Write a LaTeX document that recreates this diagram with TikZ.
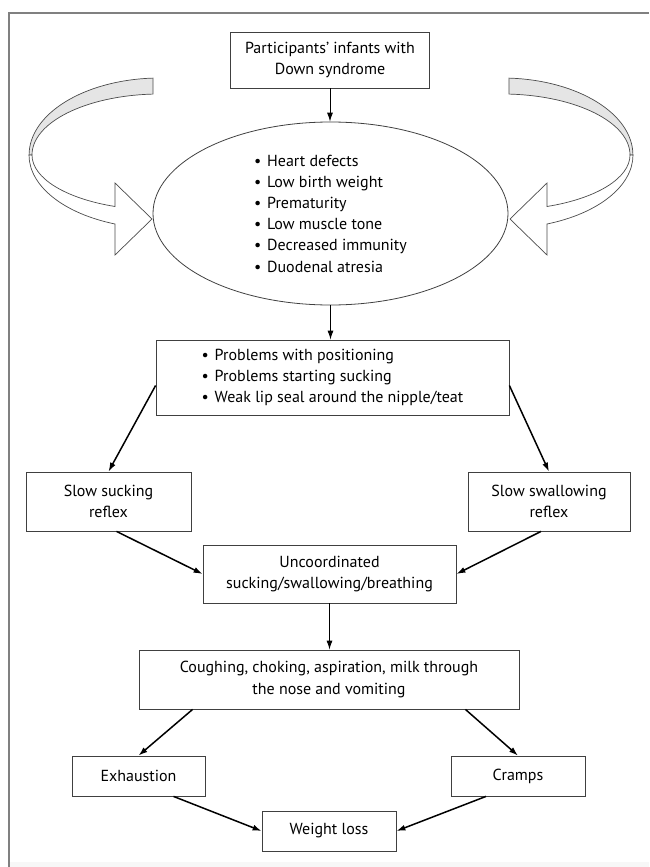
\documentclass[tikz,border=0pt]{standalone}
\usepackage{fontspec}
\setmainfont{PT Sans}
\usetikzlibrary{arrows.meta,shapes.geometric}
\def\itm{\makebox[13pt][l]{\textbullet}}
\def\bentarrow[#1]{%
  \begin{scope}[#1]
    \filldraw[fill=black!10, draw=black!70, line width=0.7pt] (153,78.1) arc[start angle=266.9, end angle=180, x radius=131, y radius=77] -- (32,155) arc[start angle=180, end angle=266.9, x radius=128, y radius=61] -- cycle;
    \filldraw[fill=white, draw=black!70, line width=0.7pt] (32,155) arc[start angle=180, end angle=110.6, x radius=128, y radius=55] -- (115,183) -- (152,219) -- (115,255) -- (115,224) arc[start angle=110.1, end angle=180, x radius=131, y radius=73.5] -- cycle;
  \end{scope}}
\tikzset{
  box/.style={draw=black!75, line width=0.8pt, align=center, inner sep=0pt, font=\fontsize{16}{21.2}\selectfont},
  flow/.style={-{Latex[length=9pt,width=6pt]}, line width=0.9pt},
  slant/.style={flow, line width=1.5pt}
}
\begin{document}
\begin{tikzpicture}[x=1pt, y=-1pt]
  \useasboundingbox (0,0) rectangle (649,867);
  %%%%% frame %%%%%
  \fill[black!3] (10,862) rectangle (649,867);
  \draw[black!50, line width=1.5pt] (9,867) -- (9,13) -- (649,13);

  %%%%% side arrows %%%%%
  \bentarrow[];
  \bentarrow[shift={(662,0)}, xscale=-1];

  %%%%% boxes %%%%%
  \node[box, minimum width=199pt, minimum height=56pt] (infants) at (330,60) {Participants' infants with\\Down syndrome};
  \node[box, ellipse, minimum width=355pt, minimum height=183pt, align=left] (risks) at (330.5,213.5) {\itm Heart defects\\\itm Low birth weight\\\itm Prematurity\\\itm Low muscle tone\\\itm Decreased immunity\\\itm Duodenal atresia};
  \node[box, minimum width=353pt, minimum height=75pt, align=left] (problems) at (332.5,377.5) {\itm Problems with positioning\\\itm Problems starting sucking\\\itm Weak lip seal around the nipple/teat};
  \node[box, minimum width=165pt, minimum height=59pt] (sucking) at (108.5,501.5) {Slow sucking\\reflex};
  \node[box, minimum width=162pt, minimum height=59pt] (swallowing) at (549,501.5) {Slow swallowing\\reflex};
  \node[box, minimum width=253pt, minimum height=58pt] (uncoord) at (329.5,574) {Uncoordinated\\sucking/swallowing/breathing};
  \node[box, minimum width=380pt, minimum height=59pt] (coughing) at (329,679.5) {Coughing, choking, aspiration, milk through\\the nose and vomiting};
  \node[box, minimum width=133pt, minimum height=40pt] (exhaustion) at (138.5,776) {Exhaustion};
  \node[box, minimum width=134pt, minimum height=40pt] (cramps) at (518,776) {Cramps};
  \node[box, minimum width=134pt, minimum height=40pt] (weightloss) at (329,831) {Weight loss};

  %%%%% arrows %%%%%
  \draw[flow] (infants.south) -- (infants.south |- risks.north);
  \draw[flow] (risks.south) -- (risks.south |- problems.north);
  \draw[slant] ([yshift=-8pt]problems.west) -- (sucking.north);
  \draw[slant] ([yshift=-8pt]problems.east) -- (swallowing.north);
  \draw[slant] ([xshift=8pt]sucking.south) -- (uncoord.west);
  \draw[slant] ([xshift=-8pt]swallowing.south) -- (uncoord.east);
  \draw[flow] (uncoord.south) -- (uncoord.south |- coughing.north);
  \draw[slant] ([xshift=54pt]coughing.south west) -- (exhaustion.north);
  \draw[slant] ([xshift=-54pt]coughing.south east) -- (cramps.north);
  \draw[slant] ([xshift=35pt]exhaustion.south) -- (weightloss.west);
  \draw[slant] ([xshift=-32pt]cramps.south) -- (weightloss.east);
\end{tikzpicture}
\end{document}
